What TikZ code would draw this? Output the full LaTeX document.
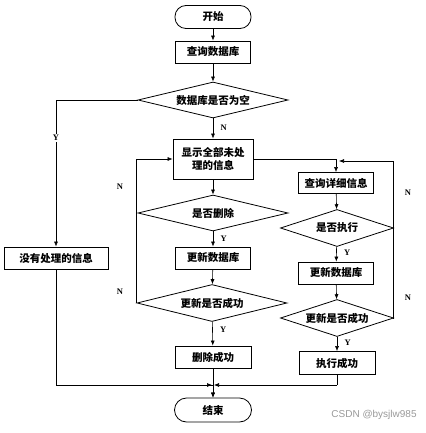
\documentclass[tikz,border=0pt]{standalone}
\usepackage{fontspec}
\setmainfont{Liberation Serif}
\newfontfamily\cjk{Noto Sans CJK SC}
\newfontfamily\wm{Liberation Sans}
\usetikzlibrary{shapes.geometric,arrows.meta}
\begin{document}
\begin{tikzpicture}[x=1pt,y=-1pt,
  every node/.style={font=\cjk\bfseries\fontsize{10.5}{13}\selectfont},
  box/.style={draw,line width=0.8pt,rectangle,inner sep=0pt,minimum width=75pt,minimum height=22pt},
  term/.style={draw,line width=0.8pt,rectangle,rounded corners=11pt,inner sep=0pt,minimum width=76pt,minimum height=23pt},
  dia/.style={draw,line width=0.8pt,diamond,inner sep=0pt,aspect=4.1},
  lab/.style={font=\rmfamily\bfseries\fontsize{8.5}{9}\selectfont},
  flow/.style={line width=0.6pt,-{Latex[length=5pt,width=4pt]}},
  ln/.style={line width=0.6pt}]
\useasboundingbox (0,0) rectangle (425,433);
\node[term] (start) at (213,17) {开始};
\node[box] (q1) at (213,52) {查询数据库};
\node[dia,minimum width=150pt,minimum height=36pt] (d1) at (213,100) {数据库是否为空};
\node[box,minimum width=80pt,minimum height=40pt,align=center] (show) at (213,159) {显示全部未处\\理的信息};
\node[dia,minimum width=150pt,minimum height=36pt] (d2) at (213,213) {是否删除};
\node[box] (upd1) at (213,258) {更新数据库};
\node[dia,minimum width=150pt,minimum height=37pt] (d3) at (212,303) {更新是否成功};
\node[box,minimum width=76pt] (del) at (213,357) {删除成功};
\node[term,minimum width=77pt,minimum height=24pt,rounded corners=12pt] (end) at (213,410) {结束};
\node[box,minimum width=104pt] (none) at (56,258) {没有处理的信息};
\node[box,minimum width=75pt,minimum height=21pt] (qd) at (336,183) {查询详细信息};
\node[dia,minimum width=113pt,minimum height=37pt,aspect=3] (d4) at (337,228) {是否执行};
\node[box] (upd2) at (336,273) {更新数据库};
\node[dia,minimum width=113pt,minimum height=37pt,aspect=3] (d5) at (337,318) {更新是否成功};
\node[box,minimum width=76pt,minimum height=23pt] (exe) at (337,363) {执行成功};
\coordinate (m) at (213,385);
\coordinate (j) at (338,161);
\coordinate (rr) at (393,161);
\draw[flow] (start) -- (q1);
\draw[flow] (q1) -- (d1);
\draw[flow] (d1) -- node[lab,right=4pt,pos=0.45]{N} (show);
\draw[flow] (d1.west) -| node[lab,pos=0.63,fill=white,inner sep=1pt]{Y} (none.north);
\draw[flow] (show) -- (d2);
\draw[flow] (d2) -- node[lab,right=4pt,pos=0.45]{Y} (upd1);
\draw[flow] (upd1) -- (d3);
\draw[flow] (d3) -- node[lab,right=4pt,pos=0.35]{Y} (del);
\draw[flow] (del) -- (end);
\draw[flow] (d3.west) |- (show.west);
\node[lab] (nl1) at (120,187) {N};
\node[lab] (nl2) at (120,292) {N};
\draw[ln] (none.south) |- (m);
\draw[flow] (none.south |- m) -- ([xshift=-1pt]m);
\draw[flow] (show.east) -| (qd.north);
\draw[flow] (qd) -- (d4);
\draw[flow] (d4) -- node[lab,right=4pt,pos=0.4]{Y} (upd2);
\draw[flow] (upd2) -- (d5);
\draw[flow] (d5) -- node[lab,right=4pt,pos=0.4]{Y} (exe);
\draw[flow] (d5.east) -- (d5.east -| rr) -- (rr) -- ([xshift=1pt]j);
\node[lab] (nr1) at (408,193) {N};
\node[lab] (nr2) at (408,298) {N};
\draw[ln] (exe.south) -- (exe.south |- m);
\draw[flow] (exe.south |- m) -- ([xshift=1pt]m);
\draw[flow] (m) -- (end);
\node[font=\wm\fontsize{10}{12}\selectfont,text=black!40] (wmk) at (374,415) {CSDN @bysjlw985};
\end{tikzpicture}
\end{document}
